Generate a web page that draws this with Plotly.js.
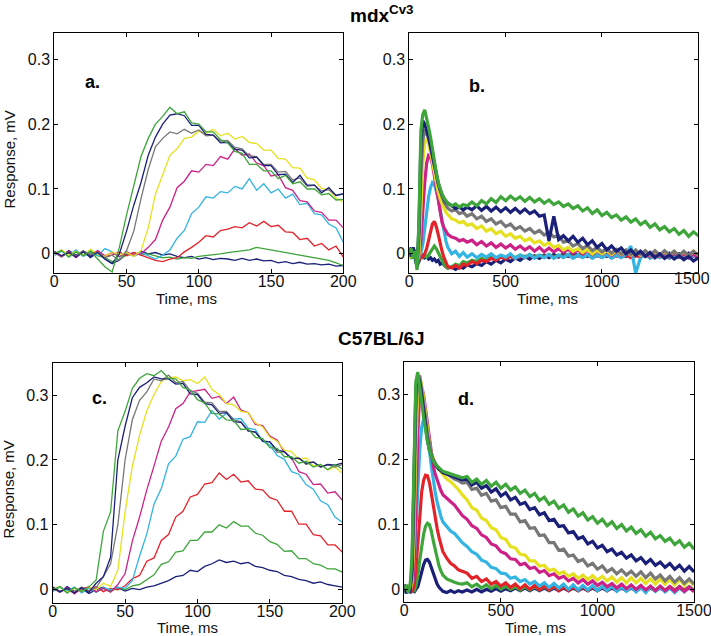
<!DOCTYPE html>
<html>
<head>
<meta charset="utf-8">
<script src="https://cdn.plot.ly/plotly-3.0.1.min.js"></script>
<style>html,body{margin:0;padding:0;background:#fff;}#chart{width:711px;height:636px;}</style>
</head>
<body>
<div id="chart"></div>
<script>
// ---------- time axes (ms) ----------
var tShort = [0,5,10,15,20,25,30,35,40,45,50,55,60,65,70,75,80,85,90,95,100,105,110,115,120,125,130,135,140,145,150,155,160,165,170,175,180,185,190,195,200];
var tLong = [0,10,20,30,40,50,60,70,80,90,100,110,120,130,140,150,160,170,180,190,200,220,240,260,280,300,
  325,350,375,400,425,450,475,500,525,550,575,600,625,650,675,700,725,750,775,800,825,850,875,900,925,950,975,1000,
  1025,1050,1075,1100,1125,1150,1175,1200,1225,1250,1275,1300,1325,1350,1375,1400,1425,1450,1475,1500];

// ---------- tick labels ----------
var yTickVals = [0, 0.1, 0.2, 0.3];
var yTickText = ['0', '0.1', '0.2', '0.3'];
var xShortTicks = [0, 50, 100, 150, 200];
var xShortText = ['0', '50', '100', '150', '200'];
var xLongTicks = [0, 500, 1000, 1500];
var xLongText = ['0', '500', '1000', '1500'];

// ---------- text ----------
var titleTop = 'mdx<sup>Cv3</sup>';
var titleBottom = 'C57BL/6J';
var panelLabels = ['a.', 'b.', 'c.', 'd.'];
var xTitle = 'Time, ms';
var yTitle = 'Response, mV';

// ---------- panel a (mdxCv3, 0-200 ms), response mV ----------
var a_navy1 = [0.003,-0.004,0.005,-0.002,0.004,-0.006,0.002,-0.008,-0.015,-0.010,
  0.000,-0.003,0.004,0.000,0.002,-0.002,0.000,-0.004,-0.006,-0.004,
  -0.008,-0.006,-0.009,-0.007,-0.008,-0.010,-0.007,-0.010,-0.008,-0.011,
  -0.010,-0.014,-0.012,-0.015,-0.013,-0.016,-0.015,-0.017,-0.016,-0.019,-0.018];
var a_green1 = [0.000,0.006,-0.004,0.003,-0.002,0.005,-0.003,-0.006,-0.012,-0.008,
  -0.002,0.002,-0.002,0.000,-0.003,-0.006,-0.005,-0.008,-0.006,-0.007,
  -0.004,-0.003,-0.002,0.000,0.002,0.003,0.004,0.006,0.010,0.008,
  0.006,0.003,0.002,0.000,-0.002,-0.004,-0.006,-0.008,-0.010,-0.014,-0.018];
var a_red = [0.002,-0.003,0.004,-0.005,0.003,0.000,0.004,-0.004,-0.002,0.003,
  -0.003,0.002,-0.002,-0.006,-0.010,-0.012,-0.008,-0.006,0.003,0.010,
  0.018,0.028,0.026,0.036,0.038,0.042,0.040,0.048,0.043,0.050,
  0.042,0.044,0.034,0.033,0.022,0.024,0.012,0.016,0.006,0.012,-0.005];
var a_cyan = [-0.003,0.004,-0.002,0.006,-0.004,0.002,-0.003,0.008,0.003,-0.005,
  0.004,-0.004,0.002,-0.003,-0.008,-0.002,0.006,0.024,0.036,0.062,
  0.072,0.088,0.086,0.096,0.094,0.104,0.100,0.116,0.098,0.108,
  0.094,0.100,0.086,0.092,0.076,0.078,0.062,0.060,0.046,0.040,0.018];
var a_magenta = [0.002,-0.005,0.003,-0.006,0.004,-0.002,0.005,-0.003,0.002,-0.004,
  0.003,-0.002,0.000,0.010,0.022,0.052,0.072,0.102,0.112,0.128,
  0.126,0.138,0.136,0.150,0.146,0.162,0.152,0.154,0.140,0.136,
  0.120,0.122,0.102,0.098,0.082,0.080,0.066,0.064,0.052,0.052,0.040];
var a_yellow = [0.000,0.006,-0.002,0.004,-0.003,0.007,0.000,-0.004,0.003,-0.002,
  0.002,-0.004,0.005,0.040,0.092,0.122,0.152,0.162,0.178,0.180,
  0.189,0.186,0.192,0.182,0.186,0.177,0.181,0.172,0.170,0.160,
  0.160,0.147,0.146,0.133,0.132,0.117,0.114,0.101,0.099,0.086,0.080];
var a_gray = [0.003,-0.004,0.002,-0.003,0.005,-0.002,0.003,-0.006,-0.002,-0.010,
  0.005,0.035,0.085,0.130,0.165,0.178,0.188,0.185,0.192,0.186,
  0.191,0.182,0.183,0.174,0.175,0.164,0.162,0.151,0.150,0.138,
  0.138,0.126,0.127,0.114,0.117,0.104,0.106,0.097,0.099,0.090,0.092];
var a_navy2 = [0.004,-0.003,0.002,-0.005,0.003,-0.004,0.002,-0.008,-0.015,0.000,
  0.035,0.075,0.110,0.152,0.180,0.200,0.214,0.216,0.213,0.198,
  0.198,0.184,0.183,0.171,0.172,0.161,0.160,0.148,0.149,0.136,
  0.136,0.122,0.123,0.110,0.121,0.106,0.106,0.094,0.102,0.090,0.093];
var a_green2 = [0.000,0.005,-0.005,0.003,-0.003,0.004,-0.008,-0.020,-0.028,0.010,
  0.060,0.105,0.150,0.178,0.200,0.212,0.226,0.216,0.219,0.202,
  0.200,0.188,0.188,0.176,0.171,0.158,0.155,0.138,0.138,0.128,
  0.128,0.116,0.121,0.108,0.111,0.100,0.100,0.091,0.093,0.083,0.084];

// ---------- panel b (mdxCv3, 0-1500 ms) ----------
var b_navy1 = [0.010,-0.005,0.008,-0.004,-0.018,-0.012,-0.004,-0.002,-0.006,-0.004,
  -0.008,-0.006,-0.010,-0.008,-0.012,-0.010,-0.016,-0.014,-0.018,-0.020,
  -0.022,-0.020,-0.024,-0.020,-0.022,-0.017,
  -0.020,-0.015,-0.018,-0.012,-0.016,-0.010,-0.014,-0.008,-0.012,-0.006,
  -0.010,-0.004,-0.008,-0.003,-0.007,-0.002,-0.006,-0.001,-0.005,0.000,
  -0.004,0.001,-0.003,0.000,-0.004,0.001,-0.003,0.000,-0.004,0.001,
  -0.003,0.000,-0.004,0.001,-0.003,0.000,-0.004,0.001,-0.003,0.000,
  -0.004,0.001,-0.003,0.000,-0.004,0.001,-0.003,0.000];
var b_green1 = [0.005,-0.008,0.006,-0.010,-0.020,-0.008,-0.004,-0.006,-0.003,-0.005,
  -0.002,0.003,0.008,0.012,0.008,0.002,-0.006,-0.012,-0.016,-0.020,
  -0.022,-0.020,-0.016,-0.018,-0.012,-0.014,
  -0.010,-0.012,-0.007,-0.010,-0.005,-0.008,-0.004,-0.007,-0.003,-0.006,
  -0.002,-0.005,-0.001,-0.005,-0.002,-0.004,-0.001,-0.005,-0.002,-0.004,
  -0.001,-0.005,-0.002,-0.004,-0.001,-0.005,-0.002,-0.004,-0.001,-0.005,
  -0.002,-0.004,-0.001,-0.005,-0.002,-0.004,-0.001,-0.005,-0.002,-0.004,
  -0.001,-0.005,-0.002,-0.004,-0.001,-0.005,-0.002,-0.004];
var b_red = [-0.004,0.008,-0.006,0.004,-0.015,-0.010,-0.003,-0.005,0.000,0.008,
  0.020,0.034,0.046,0.050,0.042,0.030,0.016,0.004,-0.006,-0.014,
  -0.020,-0.022,-0.018,-0.022,-0.016,-0.018,
  -0.012,-0.015,-0.010,-0.012,-0.007,-0.010,-0.005,-0.008,-0.004,-0.007,
  -0.003,-0.006,-0.002,-0.006,-0.003,-0.005,-0.002,-0.006,-0.003,-0.005,
  -0.002,-0.006,-0.003,-0.005,-0.002,-0.006,-0.003,-0.005,-0.002,-0.006,
  -0.003,-0.005,-0.002,-0.006,-0.003,-0.005,-0.002,-0.006,-0.003,-0.005,
  -0.002,-0.006,-0.003,-0.005,-0.002,-0.006,-0.003,-0.005];
var b_cyan = [0.006,-0.004,0.010,-0.002,-0.012,-0.006,0.002,0.015,0.040,0.065,
  0.088,0.102,0.110,0.108,0.098,0.085,0.068,0.052,0.035,0.020,
  0.010,0.000,0.004,-0.004,0.002,-0.005,
  0.000,-0.006,-0.001,-0.005,0.000,-0.006,-0.002,-0.005,0.000,-0.007,
  -0.002,-0.006,-0.001,-0.007,-0.002,-0.006,-0.001,-0.007,-0.002,-0.006,
  -0.001,-0.007,-0.002,-0.006,-0.001,-0.007,-0.002,-0.006,-0.001,-0.007,
  -0.002,-0.006,-0.001,0.012,-0.030,-0.006,-0.001,-0.007,-0.002,-0.006,
  -0.001,-0.007,-0.002,-0.006,-0.001,-0.007,-0.002,-0.006];
var b_magenta = [-0.003,0.007,-0.005,0.004,-0.014,-0.004,0.020,0.070,0.110,0.140,
  0.152,0.150,0.138,0.120,0.100,0.080,0.062,0.048,0.040,0.034,
  0.030,0.026,0.024,0.020,0.022,0.018,
  0.021,0.014,0.019,0.012,0.017,0.010,0.015,0.009,0.014,0.007,
  0.012,0.006,0.011,0.004,0.010,0.003,0.009,0.003,0.008,0.002,
  0.007,0.001,0.006,0.000,0.006,-0.001,0.005,0.000,0.004,-0.002,
  0.004,-0.002,0.003,-0.003,0.003,-0.003,0.002,-0.004,0.002,-0.004,
  0.001,-0.005,0.001,-0.005,0.000,-0.006,0.000,-0.006];
var b_yellow = [0.004,-0.006,0.008,-0.003,-0.012,0.000,0.070,0.140,0.172,0.178,
  0.170,0.158,0.142,0.126,0.110,0.096,0.085,0.076,0.070,0.064,
  0.060,0.054,0.052,0.048,0.050,0.044,
  0.046,0.039,0.043,0.035,0.039,0.031,0.035,0.027,0.031,0.024,
  0.027,0.020,0.024,0.017,0.020,0.013,0.017,0.010,0.013,0.006,
  0.010,0.004,0.008,0.002,0.007,0.000,0.006,0.000,0.005,-0.001,
  0.005,-0.001,0.005,-0.002,0.004,-0.002,0.004,-0.002,0.004,-0.003,
  0.004,-0.003,0.004,-0.003,0.003,-0.003,0.004,-0.002];
var b_gray = [-0.002,0.007,-0.004,0.006,-0.010,0.020,0.120,0.175,0.192,0.186,
  0.178,0.168,0.155,0.140,0.125,0.110,0.098,0.088,0.080,0.074,
  0.070,0.066,0.068,0.062,0.064,0.058,
  0.062,0.054,0.058,0.050,0.054,0.046,0.050,0.042,0.046,0.038,
  0.042,0.035,0.039,0.032,0.036,0.029,0.033,0.026,0.028,0.018,
  0.020,0.012,0.016,0.008,0.013,0.005,0.010,0.003,0.008,0.001,
  0.007,0.000,0.006,-0.001,0.006,-0.001,0.005,-0.002,0.005,-0.002,
  0.005,-0.002,0.004,-0.003,0.004,-0.003,0.004,-0.002];
var b_navy2 = [0.006,-0.004,0.010,-0.006,-0.020,0.040,0.170,0.205,0.200,0.190,
  0.180,0.165,0.150,0.135,0.120,0.108,0.098,0.090,0.085,0.080,
  0.078,0.074,0.070,0.072,0.068,0.072,
  0.068,0.074,0.067,0.073,0.066,0.072,0.065,0.071,0.064,0.070,
  0.063,0.069,0.062,0.066,0.058,0.060,0.020,0.058,0.022,0.028,
  0.020,0.027,0.018,0.024,0.014,0.020,0.010,0.016,0.006,0.012,
  0.004,0.009,0.000,0.006,-0.002,0.004,-0.004,0.002,-0.006,0.000,
  -0.007,-0.002,-0.008,-0.003,-0.009,-0.004,-0.011,-0.006];
var b_green2 = [0.000,0.008,-0.006,0.004,-0.025,0.050,0.190,0.215,0.222,0.210,
  0.195,0.180,0.160,0.142,0.125,0.110,0.100,0.092,0.086,0.082,
  0.078,0.074,0.077,0.072,0.076,0.074,
  0.080,0.074,0.082,0.077,0.085,0.079,0.088,0.082,0.089,0.083,
  0.088,0.081,0.087,0.080,0.085,0.078,0.083,0.076,0.080,0.073,
  0.077,0.070,0.074,0.066,0.071,0.062,0.068,0.059,0.064,0.056,
  0.060,0.052,0.057,0.049,0.054,0.045,0.050,0.041,0.046,0.037,
  0.042,0.034,0.039,0.030,0.036,0.027,0.034,0.028];

// ---------- panel c (C57BL/6J, 0-200 ms) ----------
var c_navy1 = [0.003,-0.004,0.005,-0.003,0.002,-0.006,0.000,0.004,-0.002,0.003,
  -0.002,0.002,0.000,0.004,0.006,0.010,0.014,0.020,0.022,0.030,
  0.028,0.036,0.040,0.046,0.042,0.044,0.040,0.042,0.036,0.034,
  0.030,0.028,0.022,0.020,0.016,0.014,0.010,0.012,0.008,0.006,0.004];
var c_green1 = [-0.002,0.004,-0.005,0.003,-0.002,0.005,-0.004,0.002,-0.003,0.004,
  0.000,0.006,0.008,0.016,0.023,0.039,0.043,0.058,0.060,0.076,
  0.076,0.089,0.089,0.100,0.095,0.105,0.098,0.098,0.087,0.084,
  0.074,0.070,0.059,0.060,0.048,0.048,0.040,0.038,0.032,0.032,0.027];
var c_red = [0.004,-0.003,0.002,-0.006,0.003,-0.002,0.005,-0.003,0.002,0.000,
  0.006,0.017,0.022,0.044,0.049,0.076,0.085,0.112,0.121,0.143,
  0.147,0.163,0.165,0.180,0.170,0.178,0.166,0.168,0.155,0.154,
  0.142,0.138,0.121,0.121,0.101,0.101,0.085,0.083,0.069,0.069,0.058];
var c_cyan = [-0.003,0.005,-0.002,0.004,-0.005,0.002,-0.004,0.003,0.000,0.004,
  0.002,0.014,0.052,0.086,0.132,0.156,0.194,0.206,0.232,0.236,
  0.259,0.258,0.276,0.263,0.272,0.263,0.264,0.249,0.247,0.229,
  0.223,0.207,0.201,0.182,0.178,0.162,0.155,0.137,0.131,0.112,0.104];
var c_magenta = [0.002,-0.004,0.003,-0.006,0.002,0.004,-0.003,0.002,-0.004,0.008,
  0.025,0.075,0.112,0.154,0.191,0.229,0.251,0.279,0.287,0.305,
  0.307,0.309,0.295,0.298,0.287,0.297,0.277,0.273,0.255,0.253,
  0.237,0.231,0.212,0.203,0.182,0.178,0.162,0.163,0.149,0.151,0.138];
var c_yellow = [0.000,0.005,-0.004,0.002,-0.003,0.004,0.000,0.010,0.005,0.030,
  0.120,0.190,0.238,0.276,0.301,0.321,0.327,0.328,0.322,0.324,
  0.318,0.328,0.309,0.301,0.287,0.285,0.275,0.273,0.257,0.251,
  0.235,0.229,0.215,0.213,0.201,0.203,0.191,0.193,0.185,0.189,0.180];
var c_gray = [0.003,-0.004,0.002,-0.003,0.004,-0.002,0.003,0.020,0.040,0.100,
  0.200,0.262,0.292,0.305,0.325,0.322,0.331,0.319,0.321,0.307,
  0.303,0.289,0.288,0.275,0.275,0.262,0.259,0.245,0.243,0.229,
  0.228,0.212,0.213,0.202,0.203,0.193,0.197,0.189,0.193,0.189,0.193];
var c_navy2 = [0.004,-0.003,0.002,-0.005,0.003,-0.004,0.010,0.020,0.050,0.200,
  0.252,0.296,0.312,0.319,0.328,0.325,0.325,0.317,0.318,0.302,
  0.301,0.287,0.285,0.272,0.273,0.259,0.258,0.245,0.243,0.229,
  0.228,0.215,0.213,0.202,0.203,0.195,0.197,0.189,0.193,0.192,0.195];
var c_green2 = [0.000,0.005,-0.005,0.003,-0.003,0.004,0.015,0.090,0.120,0.245,
  0.275,0.310,0.326,0.333,0.330,0.338,0.326,0.325,0.312,0.308,
  0.293,0.288,0.272,0.271,0.262,0.261,0.247,0.248,0.235,0.233,
  0.219,0.218,0.205,0.205,0.195,0.198,0.189,0.193,0.185,0.193,0.186];

// ---------- panel d (C57BL/6J, 0-1500 ms) ----------
var d_navy1 = [0.008,-0.004,0.006,-0.006,0.003,-0.005,0.000,0.004,0.015,0.028,
  0.038,0.045,0.046,0.042,0.034,0.024,0.015,0.008,0.003,0.000,
  -0.003,-0.005,-0.002,-0.005,-0.002,-0.004,
  -0.001,-0.004,0.000,-0.004,0.000,-0.003,0.001,-0.003,0.001,-0.002,
  0.002,-0.002,0.002,-0.002,0.002,-0.002,0.002,-0.002,0.002,-0.002,
  0.002,-0.002,0.002,-0.002,0.002,-0.002,0.002,-0.002,0.002,-0.002,
  0.002,-0.002,0.002,-0.002,0.002,-0.002,0.002,-0.002,0.002,-0.002,
  0.002,-0.002,0.002,-0.002,0.002,-0.002,0.002,-0.002];
var d_green1 = [0.004,-0.005,0.007,-0.003,0.002,-0.004,0.005,0.020,0.045,0.068,
  0.085,0.097,0.102,0.100,0.090,0.075,0.060,0.047,0.036,0.028,
  0.022,0.016,0.013,0.011,0.009,0.008,
  0.010,0.004,0.008,0.002,0.007,0.001,0.006,0.000,0.005,0.000,
  0.004,-0.001,0.004,-0.001,0.004,-0.001,0.004,-0.001,0.004,-0.001,
  0.004,-0.001,0.004,-0.001,0.004,-0.001,0.004,-0.001,0.004,-0.001,
  0.004,-0.001,0.004,-0.001,0.004,-0.001,0.004,-0.001,0.004,-0.001,
  0.004,-0.001,0.004,-0.001,0.004,-0.001,0.004,-0.001];
var d_red = [-0.003,0.006,-0.005,0.004,-0.004,0.005,0.030,0.070,0.115,0.150,
  0.168,0.176,0.175,0.165,0.148,0.128,0.110,0.094,0.080,0.068,
  0.058,0.048,0.040,0.036,0.030,0.028,
  0.025,0.017,0.020,0.012,0.016,0.008,0.012,0.005,0.010,0.003,
  0.008,0.001,0.007,0.000,0.006,-0.001,0.005,-0.001,0.005,-0.002,
  0.004,-0.002,0.004,-0.002,0.004,-0.002,0.004,-0.002,0.004,-0.002,
  0.004,-0.002,0.004,-0.002,0.004,-0.002,0.004,-0.002,0.004,-0.002,
  0.004,-0.002,0.004,-0.002,0.004,-0.002,0.004,-0.002];
var d_cyan = [0.002,-0.006,0.005,-0.003,0.006,0.030,0.090,0.160,0.215,0.250,
  0.262,0.258,0.240,0.215,0.190,0.168,0.150,0.135,0.122,0.112,
  0.104,0.096,0.090,0.086,0.078,0.072,
  0.066,0.058,0.054,0.045,0.042,0.034,0.032,0.025,0.024,0.017,
  0.019,0.012,0.015,0.008,0.012,0.005,0.010,0.003,0.009,0.002,
  0.008,0.000,0.007,-0.001,0.006,-0.001,0.006,-0.002,0.005,-0.002,
  0.005,-0.003,0.004,-0.003,0.004,-0.004,0.003,-0.005,0.004,-0.003,
  0.003,-0.004,0.002,-0.005,0.002,-0.004,0.003,-0.003];
var d_magenta = [-0.004,0.005,-0.002,0.006,0.000,0.030,0.120,0.240,0.305,0.312,
  0.300,0.278,0.250,0.225,0.205,0.190,0.178,0.168,0.160,0.152,
  0.146,0.140,0.135,0.130,0.122,0.114,
  0.108,0.098,0.094,0.084,0.080,0.070,0.067,0.058,0.055,0.047,
  0.046,0.038,0.040,0.032,0.034,0.026,0.029,0.021,0.024,0.017,
  0.020,0.013,0.017,0.010,0.015,0.008,0.013,0.006,0.011,0.004,
  0.009,0.002,0.008,0.001,0.007,0.000,0.006,-0.001,0.005,-0.002,
  0.005,-0.002,0.004,-0.003,0.004,-0.003,0.003,-0.004];
var d_yellow = [0.003,-0.005,0.006,-0.002,0.010,0.080,0.220,0.310,0.328,0.315,
  0.295,0.270,0.245,0.225,0.210,0.200,0.194,0.188,0.184,0.180,
  0.176,0.170,0.166,0.160,0.154,0.146,
  0.138,0.126,0.122,0.110,0.106,0.095,0.092,0.080,0.077,0.066,
  0.064,0.054,0.053,0.044,0.044,0.036,0.037,0.029,0.031,0.024,
  0.027,0.020,0.024,0.017,0.022,0.015,0.021,0.014,0.020,0.013,
  0.019,0.011,0.018,0.010,0.018,0.010,0.017,0.009,0.016,0.008,
  0.016,0.008,0.015,0.007,0.015,0.006,0.014,0.006];
var d_gray = [-0.002,0.006,-0.004,0.005,0.020,0.120,0.270,0.320,0.330,0.310,
  0.290,0.265,0.240,0.222,0.210,0.200,0.194,0.190,0.186,0.183,
  0.180,0.178,0.174,0.170,0.168,0.164,
  0.165,0.154,0.156,0.145,0.148,0.136,0.138,0.126,0.128,0.116,
  0.116,0.104,0.106,0.094,0.095,0.083,0.084,0.072,0.072,0.060,
  0.062,0.051,0.053,0.043,0.046,0.036,0.040,0.031,0.036,0.027,
  0.032,0.024,0.030,0.022,0.028,0.020,0.027,0.018,0.025,0.016,
  0.022,0.013,0.020,0.011,0.018,0.009,0.016,0.008];
var d_navy2 = [0.004,-0.006,0.003,-0.004,0.030,0.200,0.310,0.330,0.320,0.300,
  0.275,0.250,0.230,0.215,0.205,0.198,0.192,0.188,0.185,0.183,
  0.180,0.178,0.176,0.173,0.172,0.169,
  0.170,0.161,0.165,0.156,0.160,0.150,0.155,0.144,0.149,0.138,
  0.142,0.131,0.134,0.123,0.126,0.115,0.118,0.106,0.108,0.097,
  0.098,0.087,0.089,0.078,0.081,0.070,0.074,0.064,0.068,0.058,
  0.062,0.053,0.057,0.048,0.053,0.044,0.049,0.040,0.046,0.037,
  0.042,0.034,0.040,0.031,0.037,0.028,0.035,0.027];
var d_green2 = [0.000,0.007,-0.005,0.004,0.050,0.220,0.320,0.335,0.315,0.290,
  0.265,0.245,0.228,0.215,0.205,0.198,0.193,0.190,0.187,0.184,
  0.182,0.180,0.178,0.176,0.174,0.172,
  0.174,0.165,0.170,0.162,0.168,0.159,0.165,0.156,0.162,0.153,
  0.158,0.148,0.153,0.143,0.148,0.137,0.142,0.131,0.136,0.125,
  0.130,0.119,0.124,0.113,0.118,0.107,0.112,0.102,0.108,0.098,
  0.104,0.094,0.100,0.090,0.096,0.086,0.092,0.082,0.088,0.078,
  0.083,0.074,0.079,0.069,0.075,0.065,0.071,0.062];

// ---------- styles ----------
var colors = ['#1a2078', '#3ea53a', '#e3232a', '#33b4e2', '#cc2288', '#e6e120', '#777777', '#1a2078', '#3ea53a'];
var FONT = 'Liberation Sans, Arial, Helvetica, sans-serif';

var panels = [
  {t: tShort, series: [a_navy1,a_green1,a_red,a_cyan,a_magenta,a_yellow,a_gray,a_navy2,a_green2], xa: 'x', ya: 'y', w: 1.3},
  {t: tLong,  series: [b_navy1,b_green1,b_red,b_cyan,b_magenta,b_yellow,b_gray,b_navy2,b_green2], xa: 'x2', ya: 'y2', w: 3.2},
  {t: tShort, series: [c_navy1,c_green1,c_red,c_cyan,c_magenta,c_yellow,c_gray,c_navy2,c_green2], xa: 'x3', ya: 'y3', w: 1.3},
  {t: tLong,  series: [d_navy1,d_green1,d_red,d_cyan,d_magenta,d_yellow,d_gray,d_navy2,d_green2], xa: 'x4', ya: 'y4', w: 3.2}
];

var traces = [];
panels.forEach(function (p) {
  p.series.forEach(function (ys, i) {
    traces.push({x: p.t, y: ys, xaxis: p.xa, yaxis: p.ya, type: 'scatter', mode: 'lines',
      line: {color: colors[i], width: p.w}, hoverinfo: 'skip', showlegend: false});
  });
});

function ax(domain, range, tv, tt, anchor, isX) {
  return {domain: domain, range: range, anchor: anchor, tickmode: 'array', tickvals: tv, ticktext: tt,
    showline: true, mirror: 'ticks', linecolor: '#000', linewidth: 1, ticks: 'inside', ticklen: 4,
    tickcolor: '#000', tickwidth: 1, showgrid: false, zeroline: false, ticklabeloverflow: 'allow',
    ticklabelstandoff: isX ? -6 : 0,
    tickfont: {family: FONT, size: 16, color: '#111'}, fixedrange: true};
}

// panel b: the last tick ("1500") falls on the right frame edge; its label is drawn right-aligned below
var xLongTicksB = xLongTicks.slice(0, 3);
var xLongTextB = xLongText.slice(0, 3);

var yA = [-0.03, 0.34], yC = [-0.02, 0.35];
var layout = {
  width: 711, height: 636, margin: {l: 0, r: 0, t: 0, b: 0},
  paper_bgcolor: '#fff', plot_bgcolor: '#fff', showlegend: false,
  xaxis:  ax([0.0764, 0.4828], [0, 200], xShortTicks, xShortText, 'y', true),
  yaxis:  ax([0.5703, 0.9476], yA, yTickVals, yTickText, 'x', false),
  xaxis2: ax([0.5757, 0.9821], [0, 1500], xLongTicksB, xLongTextB, 'y2', true),
  yaxis2: ax([0.5703, 0.9476], yA, yTickVals, yTickText, 'x2', false),
  xaxis3: ax([0.0741, 0.4814], [0, 200], xShortTicks, xShortText, 'y3', true),
  yaxis3: ax([0.0524, 0.4297], yC, yTickVals, yTickText, 'x3', false),
  xaxis4: ax([0.5686, 0.9761], [0, 1500], xLongTicks, xLongText, 'y4', true),
  yaxis4: ax([0.0530, 0.4302], yC, yTickVals, yTickText, 'x4', false),
  annotations: [
    {text: '<b>' + titleTop + '</b>', x: 0.536, y: 0.978, xref: 'paper', yref: 'paper', showarrow: false, xanchor: 'center', yanchor: 'middle', font: {family: FONT, size: 19, color: '#000'}},
    {text: '<b>' + titleBottom + '</b>', x: 0.537, y: 0.467, xref: 'paper', yref: 'paper', showarrow: false, xanchor: 'center', yanchor: 'middle', font: {family: FONT, size: 19, color: '#000'}},
    {text: '<b>' + panelLabels[0] + '</b>', x: 0.1308, y: 0.8711, xref: 'paper', yref: 'paper', showarrow: false, xanchor: 'center', yanchor: 'middle', font: {family: FONT, size: 18, color: '#000'}},
    {text: '<b>' + panelLabels[1] + '</b>', x: 0.6702, y: 0.8648, xref: 'paper', yref: 'paper', showarrow: false, xanchor: 'center', yanchor: 'middle', font: {family: FONT, size: 18, color: '#000'}},
    {text: '<b>' + panelLabels[2] + '</b>', x: 0.1399, y: 0.3742, xref: 'paper', yref: 'paper', showarrow: false, xanchor: 'center', yanchor: 'middle', font: {family: FONT, size: 18, color: '#000'}},
    {text: '<b>' + panelLabels[3] + '</b>', x: 0.6554, y: 0.3726, xref: 'paper', yref: 'paper', showarrow: false, xanchor: 'center', yanchor: 'middle', font: {family: FONT, size: 18, color: '#000'}},
    {text: xLongText[3], x: 1.0, y: 0.5620, xref: 'paper', yref: 'paper', showarrow: false, xanchor: 'right', yanchor: 'middle', borderpad: 0, font: {family: FONT, size: 16, color: '#111'}},
    {text: xTitle, x: 0.263, y: 0.5314, xref: 'paper', yref: 'paper', showarrow: false, xanchor: 'center', yanchor: 'middle', font: {family: FONT, size: 15, color: '#111'}},
    {text: xTitle, x: 0.770, y: 0.5314, xref: 'paper', yref: 'paper', showarrow: false, xanchor: 'center', yanchor: 'middle', font: {family: FONT, size: 15, color: '#111'}},
    {text: xTitle, x: 0.2637, y: 0.0134, xref: 'paper', yref: 'paper', showarrow: false, xanchor: 'center', yanchor: 'middle', font: {family: FONT, size: 15, color: '#111'}},
    {text: xTitle, x: 0.7525, y: 0.0134, xref: 'paper', yref: 'paper', showarrow: false, xanchor: 'center', yanchor: 'middle', font: {family: FONT, size: 15, color: '#111'}},
    {text: yTitle, x: 0.012, y: 0.7484, xref: 'paper', yref: 'paper', showarrow: false, xanchor: 'center', yanchor: 'middle', textangle: -90, font: {family: FONT, size: 15, color: '#111'}},
    {text: yTitle, x: 0.012, y: 0.2296, xref: 'paper', yref: 'paper', showarrow: false, xanchor: 'center', yanchor: 'middle', textangle: -90, font: {family: FONT, size: 15, color: '#111'}}
  ]
};

Plotly.newPlot('chart', traces, layout, {staticPlot: true, displayModeBar: false});
</script>
</body>
</html>
